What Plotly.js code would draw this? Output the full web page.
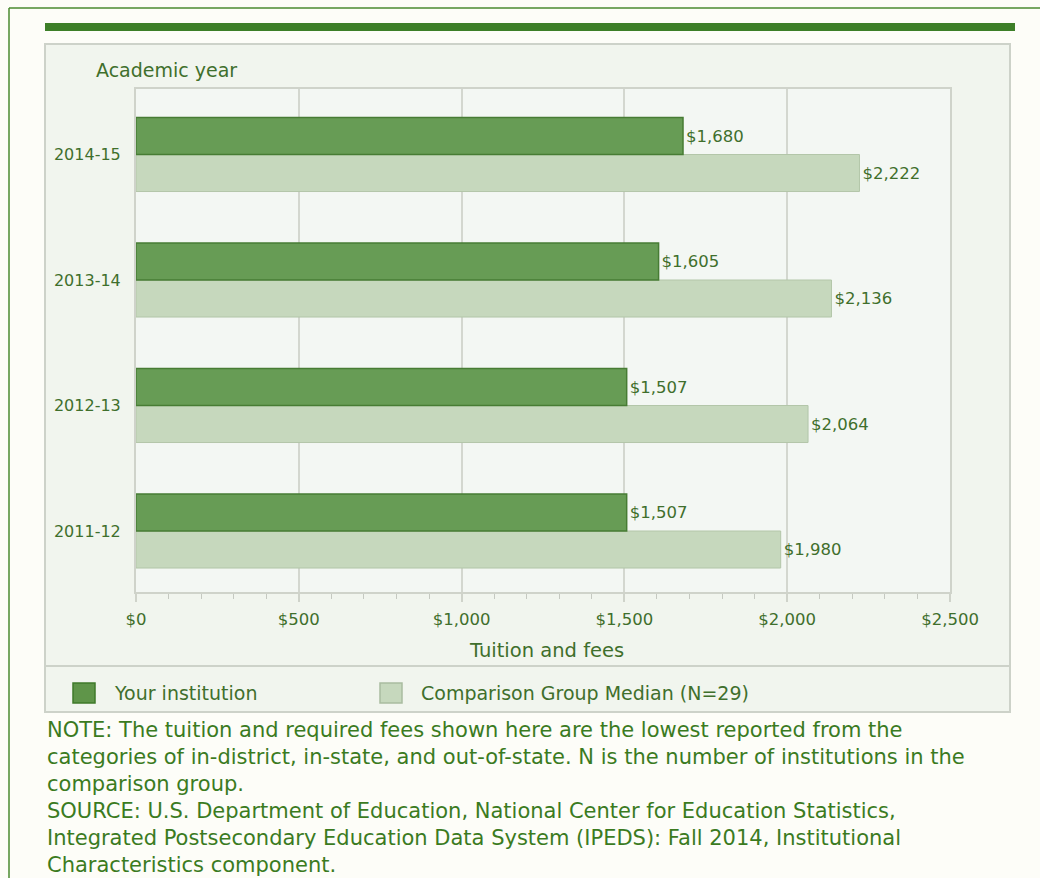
<!DOCTYPE html>
<html>
<head>
<meta charset="utf-8">
<script src="https://cdn.plot.ly/plotly-3.0.1.min.js"></script>
<style>
html,body{margin:0;padding:0;background:#fdfdf8;}
#chart{width:1040px;height:878px;}
</style>
</head>
<body>
<div id="chart"></div>
<script>
// ---- data ----
var years = ['2011-12', '2012-13', '2013-14', '2014-15'];
var yourInstitution = [1507, 1507, 1605, 1680];
var comparisonMedian = [1980, 2064, 2136, 2222];
var seriesNames = ['Your institution', 'Comparison Group Median (N=29)'];
var xTickVals = [0, 500, 1000, 1500, 2000, 2500];
var xTickText = ['$0', '$500', '$1,000', '$1,500', '$2,000', '$2,500'];
var yAxisLabel = 'Academic year';
var xAxisLabel = 'Tuition and fees';
var noteLines = [
  'NOTE: The tuition and required fees shown here are the lowest reported from the',
  'categories of in-district, in-state, and out-of-state. N is the number of institutions in the',
  'comparison group.',
  'SOURCE: U.S. Department of Education, National Center for Education Statistics,',
  'Integrated Postsecondary Education Data System (IPEDS): Fall 2014, Institutional',
  'Characteristics component.'
];

// ---- layout geometry (pixels) ----
var W = 1040, H = 878;
var L = 136, R = 950, T = 89, B = 592;
function px(x) { return (x - L) / (R - L); }
function py(y) { return (B - y) / (B - T); }

var FONT = 'DejaVu Sans, Arial, sans-serif';
var axisText = '#3f6f2c';
var noteText = '#3b7b1f';
var darkFill = '#679c55', darkLine = '#477c34';
var lightFill = '#c6d8bd', lightLine = '#b3c6a9';

var traces = [
  {
    type: 'bar', orientation: 'h', name: seriesNames[1],
    y: years, x: comparisonMedian,
    marker: {color: lightFill, line: {color: lightLine, width: 1}},
    texttemplate: '$%{x:,}', textposition: 'outside',
    textfont: {family: FONT, size: 16.5, color: axisText},
    cliponaxis: false, hoverinfo: 'skip'
  },
  {
    type: 'bar', orientation: 'h', name: seriesNames[0],
    y: years, x: yourInstitution,
    marker: {color: darkFill, line: {color: darkLine, width: 1.5}},
    texttemplate: '$%{x:,}', textposition: 'outside',
    textfont: {family: FONT, size: 16.5, color: axisText},
    cliponaxis: false, hoverinfo: 'skip'
  }
];

var shapes = [
  // outer frame lines
  {type: 'line', xref: 'paper', yref: 'paper', x0: px(9), x1: px(1040), y0: py(8), y1: py(8), line: {color: '#4a8a30', width: 1.5}, layer: 'below'},
  {type: 'line', xref: 'paper', yref: 'paper', x0: px(9), x1: px(9), y0: py(8), y1: py(878), line: {color: '#4a8a30', width: 1.5}, layer: 'below'},
  // thick top bar
  {type: 'rect', xref: 'paper', yref: 'paper', x0: px(45), x1: px(1015), y0: py(23), y1: py(31), fillcolor: '#3d7f28', line: {width: 0}, layer: 'below'},
  // panel
  {type: 'rect', xref: 'paper', yref: 'paper', x0: px(45), x1: px(1010), y0: py(44), y1: py(712), fillcolor: '#f1f5ee', line: {color: '#cdd2c9', width: 2}, layer: 'below'},
  // plot area fill
  {type: 'rect', xref: 'paper', yref: 'paper', x0: 0, x1: 1, y0: 0, y1: 1, fillcolor: '#f3f7f3', line: {width: 0}, layer: 'below'},
  // legend separator
  {type: 'line', xref: 'paper', yref: 'paper', x0: px(45), x1: px(1010), y0: py(666), y1: py(666), line: {color: '#cdd2c9', width: 2}, layer: 'below'},
  // legend swatches
  {type: 'rect', xref: 'paper', yref: 'paper', x0: px(73), x1: px(95), y0: py(683), y1: py(703), fillcolor: '#5f9549', line: {color: '#3f7a2a', width: 1.5}, layer: 'below'},
  {type: 'rect', xref: 'paper', yref: 'paper', x0: px(380), x1: px(402), y0: py(683), y1: py(703), fillcolor: lightFill, line: {color: '#a9bca0', width: 1.5}, layer: 'below'}
];

var annotations = [
  {text: yAxisLabel, xref: 'paper', yref: 'paper', x: px(94), y: py(70), xanchor: 'left', yanchor: 'middle', showarrow: false, font: {family: FONT, size: 19, color: axisText}},
  {text: xAxisLabel, xref: 'paper', yref: 'paper', x: px(546), y: py(650), xanchor: 'center', yanchor: 'middle', showarrow: false, font: {family: FONT, size: 19.5, color: axisText}},
  {text: seriesNames[0], xref: 'paper', yref: 'paper', x: px(112), y: py(693), xanchor: 'left', yanchor: 'middle', showarrow: false, font: {family: FONT, size: 19, color: axisText}},
  {text: seriesNames[1], xref: 'paper', yref: 'paper', x: px(419), y: py(693), xanchor: 'left', yanchor: 'middle', showarrow: false, font: {family: FONT, size: 19, color: axisText}}
];
var noteY = [730, 757, 784, 811, 838, 865];
noteLines.forEach(function (t, i) {
  annotations.push({text: t, xref: 'paper', yref: 'paper', x: px(45), y: py(noteY[i]), xanchor: 'left', yanchor: 'middle', showarrow: false, font: {family: FONT, size: 21, color: noteText}});
});

var layout = {
  width: W, height: H,
  margin: {l: L, r: W - R, t: T, b: H - B, pad: 0},
  paper_bgcolor: '#fdfdf8',
  plot_bgcolor: 'rgba(0,0,0,0)',
  barmode: 'group',
  bargap: 0.41,
  bargroupgap: 0,
  showlegend: false,
  font: {family: FONT, color: axisText},
  xaxis: {
    range: [0, 2500],
    tickmode: 'array', tickvals: xTickVals, ticktext: xTickText,
    showgrid: true, gridcolor: '#d3d7cf', gridwidth: 2,
    zeroline: false,
    showline: true, mirror: true, linecolor: '#cfd3ca', linewidth: 2,
    ticks: 'outside', ticklen: 8, tickwidth: 2, tickcolor: '#cfd3ca',
    minor: {dtick: 100, ticks: 'outside', ticklen: 5, tickwidth: 1, tickcolor: '#c5c9c1', showgrid: false},
    tickfont: {family: FONT, size: 16.5, color: axisText},
    ticklabelstandoff: 3,
    fixedrange: true
  },
  yaxis: {
    type: 'category',
    categoryorder: 'array', categoryarray: years,
    range: [-0.486, 3.522],
    showgrid: false, zeroline: false,
    showline: true, mirror: true, linecolor: '#cfd3ca', linewidth: 2,
    ticks: '',
    tickfont: {family: FONT, size: 16, color: axisText},
    ticklabelstandoff: 10,
    fixedrange: true
  },
  shapes: shapes,
  annotations: annotations
};

Plotly.newPlot('chart', traces, layout, {displayModeBar: false, staticPlot: true});
</script>
</body>
</html>
